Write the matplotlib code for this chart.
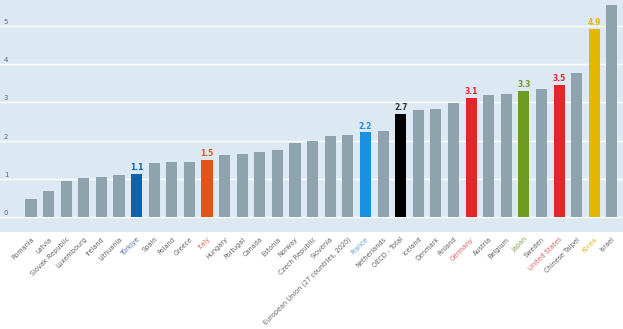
import matplotlib
matplotlib.use("Agg")
import matplotlib.pyplot as plt
from matplotlib.transforms import blended_transform_factory

countries = ["Romania", "Latvia", "Slovak Republic", "Luxembourg", "Ireland", "Lithuania",
             "Türkiye", "Spain", "Poland", "Greece", "Italy", "Hungary", "Portugal", "Canada",
             "Estonia", "Norway", "Czech Republic", "Slovenia",
             "European Union (27 countries, 2020)", "France", "Netherlands", "OECD - Total",
             "Iceland", "Denmark", "Finland", "Germany", "Austria", "Belgium", "Japan",
             "Sweden", "United States", "Chinese Taipei", "Korea", "Israel"]
values = [0.47, 0.69, 0.93, 1.01, 1.05, 1.09, 1.13, 1.41, 1.43, 1.45, 1.48, 1.63, 1.65, 1.69,
          1.75, 1.93, 1.98, 2.13, 2.15, 2.21, 2.25, 2.70, 2.79, 2.81, 2.98, 3.12, 3.19, 3.21,
          3.29, 3.35, 3.46, 3.77, 4.92, 5.54]
highlight = {"Türkiye": "#0d62a8", "Italy": "#e5531c", "France": "#1b8fe0",
             "OECD - Total": "#000000", "Germany": "#e3262b", "Japan": "#6e9b24",
             "United States": "#e3262b", "Korea": "#e6b600"}
label_color = {"Türkiye": "#4a6fb0", "Italy": "#e06a50", "France": "#5a9be0",
               "Germany": "#e05a5a", "Japan": "#7ea040", "United States": "#e05a5a",
               "Korea": "#e0b830"}
yticks = [0, 1, 2, 3, 4, 5]
base_gray = "#8fa3af"

fig = plt.figure(figsize=(6.23, 3.29), dpi=100)
ax = fig.add_axes([0, 1 - 232 / 329, 1, 232 / 329])
ax.set_facecolor("#dde9f2")
x = list(range(len(countries)))
colors = [highlight.get(c, base_gray) for c in countries]
ax.bar(x, values, width=0.63, color=colors, zorder=3)
ax.set_xlim(-1.76, len(countries) - 0.37)
ax.set_ylim(-0.39, 5.67)
for t in yticks:
    ax.axhline(t, color="white", lw=1.0, zorder=1)
trans = blended_transform_factory(ax.transAxes, ax.transData)
for t in yticks:
    ax.text(0.006, t + 0.1, str(t), transform=trans, fontsize=5, color="#666666",
            ha="left", va="center")
for i, (c, v) in enumerate(zip(countries, values)):
    if c in highlight:
        col = highlight[c] if c != "OECD - Total" else "#333333"
        ax.text(i, v + 0.05, f"{v:.1f}", ha="center", va="bottom", fontsize=5.5,
                fontweight="bold", color=col, zorder=4)
ax.set_yticks([])
ax.set_xticks(x)
ax.set_xticklabels(countries, rotation=45, ha="right", rotation_mode="anchor", fontsize=4.7)
for lbl, c in zip(ax.get_xticklabels(), countries):
    lbl.set_color(label_color.get(c, "#606060"))
ax.tick_params(axis="x", length=0, pad=3)
for s in ax.spines.values():
    s.set_visible(False)
fig.savefig("out.png", dpi=100, facecolor="white")
